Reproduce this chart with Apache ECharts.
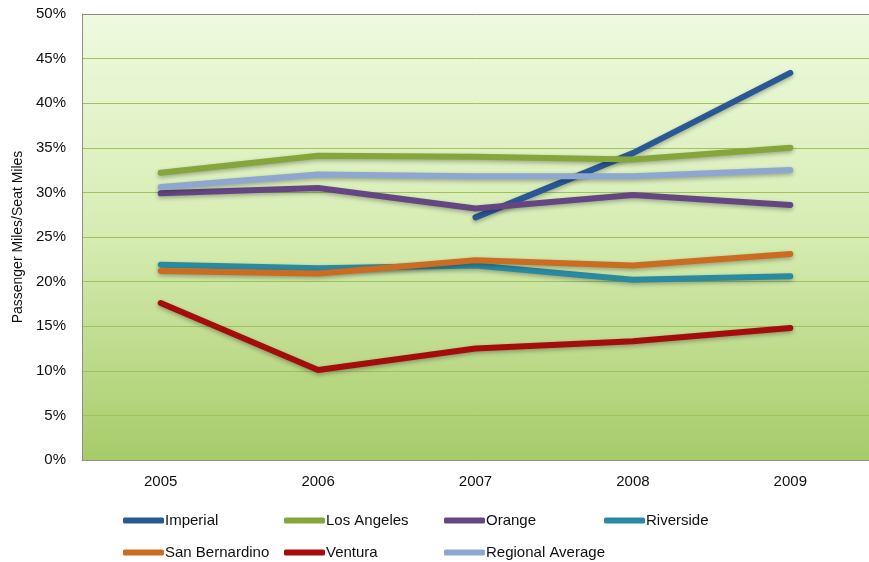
<!DOCTYPE html>
<html>
<head>
<meta charset="utf-8">
<script src="https://cdn.jsdelivr.net/npm/echarts@6/dist/echarts.min.js"></script>
<style>
  html, body { margin: 0; padding: 0; background: #ffffff; }
  #chart { width: 869px; height: 562px; }
</style>
</head>
<body>
<div id="chart"></div>
<script>
// Passenger miles / seat miles by county, 2005–2009
const years = ['2005', '2006', '2007', '2008', '2009'];

const imperial        = [null, null, 27.2, 34.4, 43.4];
const losAngeles      = [32.2, 34.1, 34.0, 33.7, 35.0];
const orange          = [29.9, 30.5, 28.2, 29.7, 28.6];
const riverside       = [21.9, 21.5, 21.8, 20.2, 20.6];
const sanBernardino   = [21.2, 20.9, 22.4, 21.8, 23.1];
const ventura         = [17.6, 10.1, 12.5, 13.3, 14.8];
const regionalAverage = [30.6, 32.0, 31.8, 31.8, 32.5];

const seriesDefs = [
  { name: 'Imperial',         data: imperial,        color: '#2a5894' },
  { name: 'Los Angeles',      data: losAngeles,      color: '#84a63b' },
  { name: 'Orange',           data: orange,          color: '#654683' },
  { name: 'Riverside',        data: riverside,       color: '#2a8aa1' },
  { name: 'San Bernardino',   data: sanBernardino,   color: '#cc6b22' },
  { name: 'Ventura',          data: ventura,         color: '#a50d0d' },
  { name: 'Regional Average', data: regionalAverage, color: '#8ea7d0' }
];

const FONT = '"Liberation Sans Narrow", "Arial Narrow", "Liberation Sans", sans-serif';

// legend slots: one legend per entry so columns line up
const legendPos = [
  [123, 513], [284, 513], [444, 513], [604, 513],
  [123, 545], [284, 545], [444, 545]
];

const chart = echarts.init(document.getElementById('chart'));

const gridLineColors = [];
for (let i = 0; i <= 10; i++) gridLineColors.push(i === 10 ? '#8e8e80' : '#9dc35a');

chart.setOption({
  animation: false,
  grid: {
    left: 82, top: 14, width: 795, height: 446,
    show: true,
    borderWidth: 0,
    backgroundColor: new echarts.graphic.LinearGradient(0, 0, 0, 1, [
      { offset: 0, color: '#eefadf' },
      { offset: 0.5, color: '#d6ecb2' },
      { offset: 1, color: '#a7cb69' }
    ])
  },
  xAxis: {
    type: 'category',
    data: years,
    boundaryGap: true,
    axisLine: { show: true, lineStyle: { color: '#8e8e8e', width: 1 } },
    axisTick: { show: false },
    axisLabel: { color: '#111', fontFamily: FONT, fontSize: 15, margin: 14 }
  },
  yAxis: {
    type: 'value',
    min: 0, max: 50, interval: 5,
    name: 'Passenger Miles/Seat Miles',
    nameLocation: 'middle',
    nameGap: 57,
    nameTextStyle: { color: '#111', fontFamily: FONT, fontSize: 14 },
    axisLine: { show: true, lineStyle: { color: '#8e8e8e', width: 1 } },
    axisTick: { show: false },
    axisLabel: { color: '#111', fontFamily: FONT, fontSize: 15, margin: 16, formatter: '{value}%' },
    splitLine: { show: true, lineStyle: { color: gridLineColors, width: 1 } }
  },
  legend: seriesDefs.map((s, i) => ({
    left: legendPos[i][0],
    top: legendPos[i][1],
    data: [s.name],
    icon: 'roundRect',
    itemWidth: 41,
    itemHeight: 6,
    itemGap: 0,
    padding: 0,
    selectedMode: false,
    textStyle: { color: '#111', fontFamily: FONT, fontSize: 15, padding: [0, 0, 0, -4] }
  })),
  series: seriesDefs.map(s => ({
    name: s.name,
    type: 'line',
    data: s.data,
    connectNulls: false,
    showSymbol: false,
    symbol: 'none',
    color: s.color,
    lineStyle: {
      color: s.color,
      width: 6,
      cap: 'round',
      join: 'round',
      shadowColor: 'rgba(0,0,0,0.3)',
      shadowBlur: 4,
      shadowOffsetY: 2
    }
  }))
});
</script>
</body>
</html>
